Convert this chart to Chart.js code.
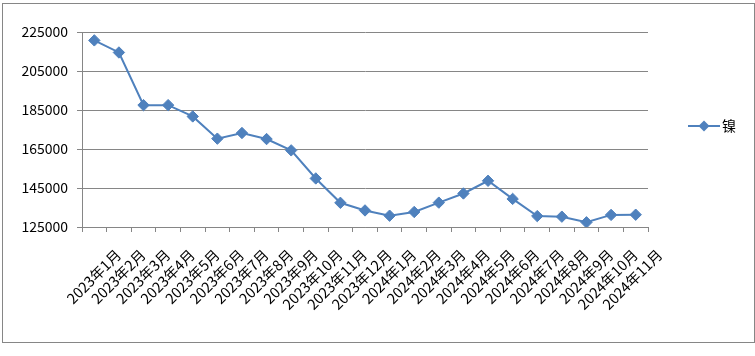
<!DOCTYPE html>
<html><head><meta charset="utf-8">
<script src="https://cdn.jsdelivr.net/npm/chart.js@4/dist/chart.umd.min.js"></script>
<style>html,body{margin:0;padding:0;background:#fff;}#wrap{width:755px;height:356px;position:relative;}</style>
</head><body><div id="wrap"><canvas id="c" width="755" height="356"></canvas></div>
<script>
const categories = ["2023年1月","2023年2月","2023年3月","2023年4月","2023年5月","2023年6月","2023年7月","2023年8月","2023年9月","2023年10月","2023年11月","2023年12月","2024年1月","2024年2月","2024年3月","2024年4月","2024年5月","2024年6月","2024年7月","2024年8月","2024年9月","2024年10月","2024年11月"];
const nickelValues = [220700,214500,187500,187500,181700,170300,173200,170100,164300,149900,137400,133500,130800,132700,137500,142200,148700,139400,130600,130300,127400,131200,131300];
const seriesName = "镍";
const yTicks = [125000,145000,165000,185000,205000,225000];

const FONT = '"Noto Sans CJK JP", "Noto Sans CJK SC", sans-serif';
const BLUE = '#4F81BD';
const GRID = '#868686';

const extras = {
  id: 'extras',
  afterDraw(chart) {
    const ctx = chart.ctx;
    ctx.save();
    // outer border
    ctx.strokeStyle = GRID; ctx.lineWidth = 1;
    ctx.strokeRect(2.5, 3.5, 752, 339);
    // legend
    const ds = chart.data.datasets[0];
    const ly = 126;
    ctx.strokeStyle = BLUE; ctx.lineWidth = 2;
    ctx.beginPath(); ctx.moveTo(688, ly); ctx.lineTo(720, ly); ctx.stroke();
    ctx.fillStyle = BLUE;
    ctx.beginPath();
    ctx.moveTo(704, ly - 5.5); ctx.lineTo(709.5, ly); ctx.lineTo(704, ly + 5.5); ctx.lineTo(698.5, ly); ctx.closePath();
    ctx.fill();
    ctx.fillStyle = '#000';
    ctx.font = '14px ' + FONT;
    ctx.textBaseline = 'middle'; ctx.textAlign = 'left';
    ctx.fillText(ds.label, 722, ly);
    ctx.restore();
  }
};

new Chart(document.getElementById('c'), {
  type: 'line',
  data: {
    labels: categories,
    datasets: [{
      label: seriesName,
      data: nickelValues,
      borderColor: BLUE,
      backgroundColor: BLUE,
      borderWidth: 2,
      pointStyle: 'rectRot',
      pointRadius: 5.7,
      pointHoverRadius: 5.7,
      pointBorderWidth: 1,
      pointBorderColor: BLUE,
      pointBackgroundColor: BLUE,
      tension: 0,
      fill: false
    }]
  },
  options: {
    responsive: false,
    animation: false,
    events: [],
    layout: { padding: { left: 10, right: 107, top: 32, bottom: 0 } },
    plugins: { legend: { display: false }, tooltip: { enabled: false } },
    scales: {
      x: {
        type: 'category',
        offset: true,
        grid: { display: true, drawOnChartArea: false, drawTicks: true, tickLength: 5, color: GRID, offset: true },
        border: { display: true, color: GRID, width: 1 },
        ticks: {
          autoSkip: false, maxRotation: 45, minRotation: 45,
          color: '#000', font: { family: FONT, size: 14.5 },
          labelOffset: 24, padding: 14
        },
        afterFit(s) { s.height = 129; }
      },
      y: {
        min: 125000, max: 225000,
        afterBuildTicks(s) { s.ticks = yTicks.map(v => ({ value: v })); },
        grid: { color: GRID, lineWidth: 1, tickLength: 5, drawTicks: true },
        border: { display: true, color: GRID, width: 1 },
        ticks: { color: '#000', font: { family: FONT, size: 14 }, padding: 9, callback: v => String(v) },
        afterFit(s) { s.width = 72; }
      }
    }
  },
  plugins: [extras]
});
</script></body></html>
